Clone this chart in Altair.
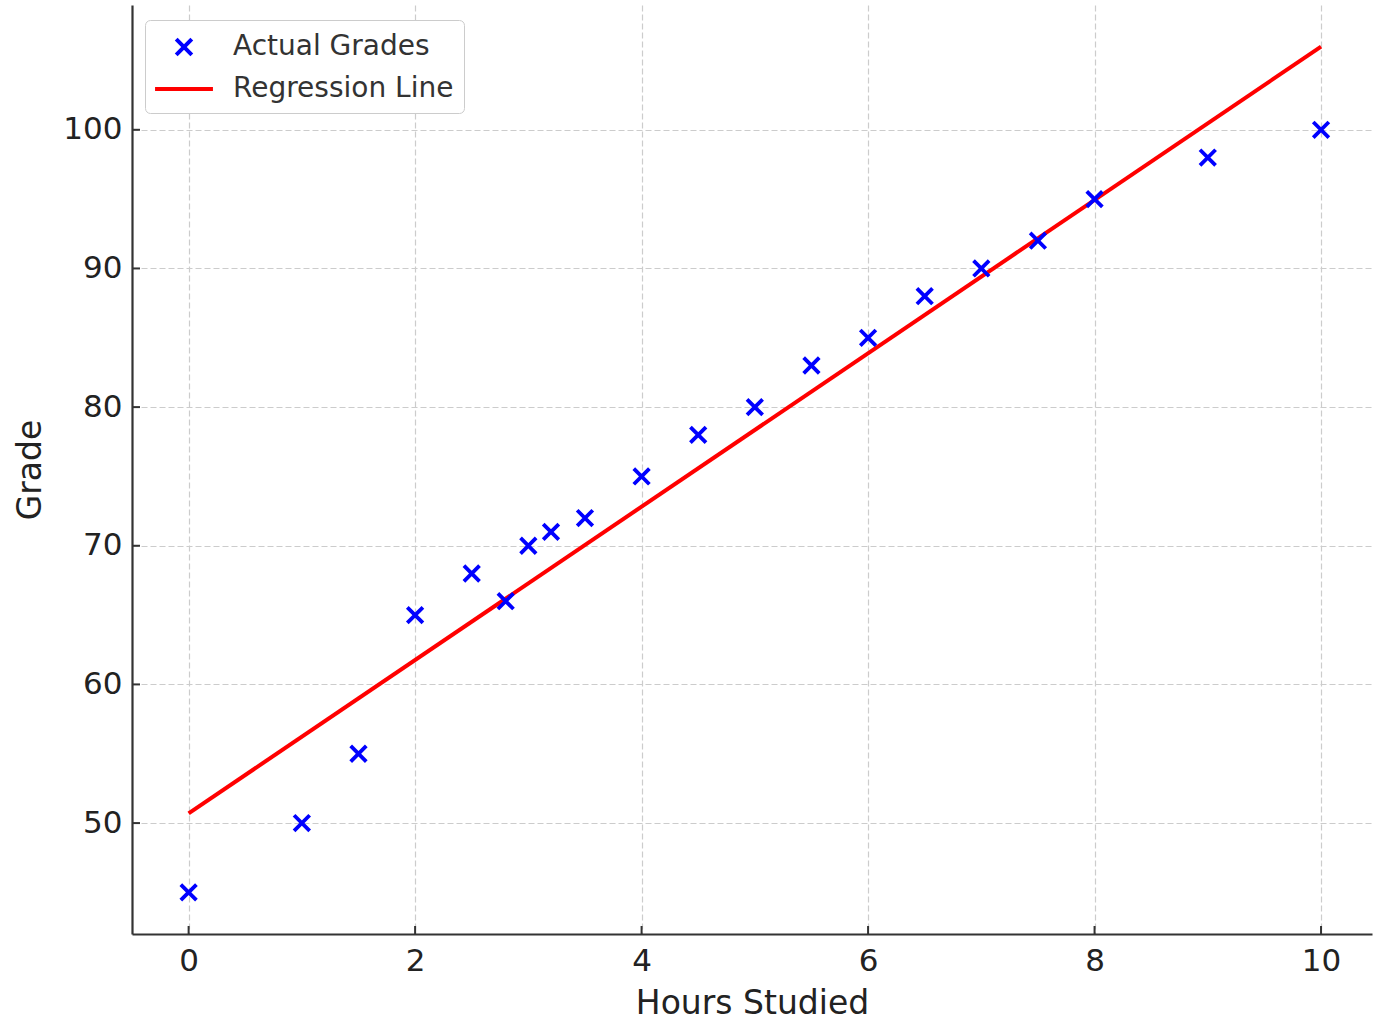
import altair as alt
import pandas as pd

hours = [0, 1, 1.5, 2, 2.5, 2.8, 3, 3.2, 3.5, 4, 4.5, 5, 5.5, 6, 6.5, 7, 7.5, 8, 9, 10]
grades = [45, 50, 55, 65, 68, 66, 70, 71, 72, 75, 78, 80, 83, 85, 88, 90, 92, 95, 98, 100]
reg_x = [0, 10]
reg_y = [50.7, 106.0]
series = ["Actual Grades", "Regression Line"]
colors = ["blue", "red"]
x_ticks = [0, 2, 4, 6, 8, 10]
y_ticks = [50, 60, 70, 80, 90, 100]

W, H = 1240, 929
FONT = "DejaVu Sans"

pts = pd.DataFrame({"x": hours, "y": grades, "series": series[0]})
reg = pd.DataFrame({"x": reg_x, "y": reg_y, "series": series[1]})

XPATH = "M-0.52,-0.52L0.52,0.52M0.52,-0.52L-0.52,0.52"
LPATH = "M-1.93,0L1.93,0"
SYM = 900

xscale = alt.Scale(domain=[-0.5, 10.45], nice=False, zero=False)
yscale = alt.Scale(domain=[42, 109], nice=False, zero=False)
color_scale = alt.Scale(domain=series, range=colors)
shape_scale = alt.Scale(domain=series, range=[XPATH, LPATH])

legend = alt.Legend(
    title=None, orient="none", legendX=13, legendY=15,
    fillColor="white", strokeColor="#cccccc", cornerRadius=5, padding=10,
    labelFont=FONT, labelFontSize=28, labelColor="#333333",
    labelOffset=32, symbolOffset=12,
    labelLimit=0, symbolSize=SYM, symbolStrokeWidth=4, rowPadding=9,
)

xaxis = alt.Axis(values=x_ticks, format="d", title="Hours Studied", ticks=False,
                 labelPadding=12, titlePadding=11, grid=True)
yaxis = alt.Axis(values=y_ticks, format="d", title="Grade", ticks=False,
                 labelPadding=10, titlePadding=15, grid=True)

points = alt.Chart(pts).mark_point(filled=False, size=SYM, strokeWidth=3.8, opacity=1).encode(
    x=alt.X("x:Q", scale=xscale, axis=xaxis),
    y=alt.Y("y:Q", scale=yscale, axis=yaxis),
    color=alt.Color("series:N", scale=color_scale, legend=legend),
    shape=alt.Shape("series:N", scale=shape_scale, legend=legend),
)

line = alt.Chart(reg).mark_line(strokeWidth=4).encode(
    x=alt.X("x:Q", scale=xscale),
    y=alt.Y("y:Q", scale=yscale),
    color=alt.Color("series:N", scale=color_scale, legend=legend),
)

xt = pd.DataFrame({"v": x_ticks})
yt = pd.DataFrame({"v": y_ticks})
xtick_marks = alt.Chart(xt).mark_rule(color="#333333", strokeWidth=2).encode(
    x=alt.X("v:Q", scale=xscale), y=alt.value(H - 8), y2=alt.value(H))
ytick_marks = alt.Chart(yt).mark_rule(color="#333333", strokeWidth=2).encode(
    y=alt.Y("v:Q", scale=yscale), x=alt.value(0), x2=alt.value(8))

chart = alt.layer(line, points, xtick_marks, ytick_marks).properties(
    width=W, height=H,
    autosize=alt.AutoSizeParams(type="none"),
    padding={"left": 132, "top": 5, "right": 1, "bottom": 86},
).configure_view(stroke=None).configure_axis(
    labelFont=FONT, titleFont=FONT, labelFontSize=31, titleFontSize=33,
    labelColor="#222222", titleColor="#222222", titleFontWeight="normal",
    domainColor="#333333", domainWidth=2.2,
    gridColor="#cccccc", gridDash=[6, 3], gridWidth=1.2,
).configure_axisY(labelAlign="right")

chart.save("out.html", embed_options={"renderer": "svg", "actions": False})
